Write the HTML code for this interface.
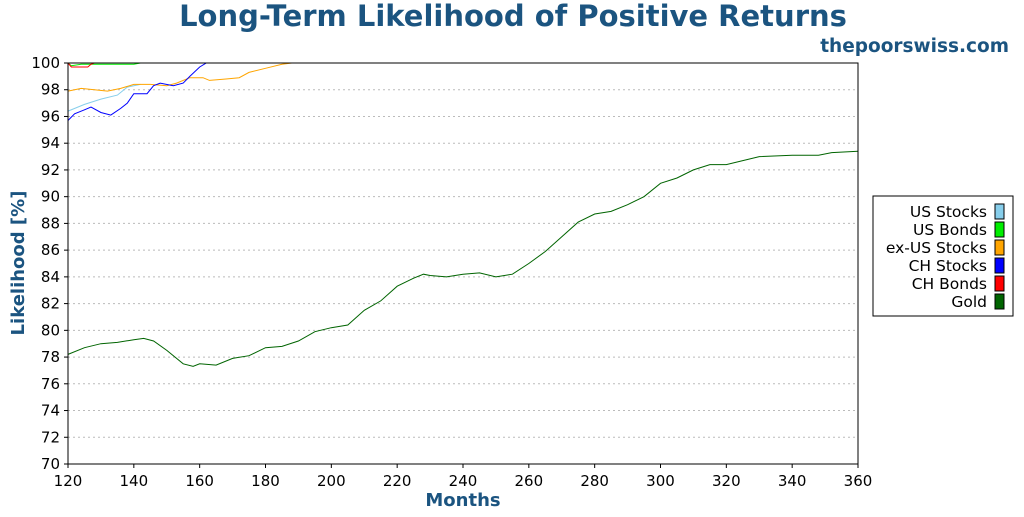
<!DOCTYPE html>
<html><head><meta charset="utf-8"><style>
body{margin:0;background:#fff;}
svg text{font-family:"DejaVu Sans","Liberation Sans",sans-serif;}
</style></head><body>
<svg width="1024" height="512" xmlns="http://www.w3.org/2000/svg">
<text x="513" y="26" text-anchor="middle" font-size="29" font-weight="bold" fill="#1b5480">Long-Term Likelihood of Positive Returns</text>
<text x="1009" y="52" text-anchor="end" font-size="18.5" font-weight="bold" fill="#1b5480">thepoorswiss.com</text>
<g id="grid"></g>
<g id="series"></g>
<rect x="68" y="63" width="790" height="401" fill="none" stroke="#000" stroke-width="1"/>
<g id="axes"></g>
<text x="463" y="506" text-anchor="middle" font-size="18" font-weight="bold" fill="#1b5480">Months</text>
<text transform="translate(24,263) rotate(-90)" text-anchor="middle" font-size="18" font-weight="bold" fill="#1b5480">Likelihood [%]</text>
<g id="legend">
<rect x="873" y="196" width="140" height="120" fill="#fff" stroke="#000"/>
</g>
</svg>
<script>
const xTicks=[120,140,160,180,200,220,240,260,280,300,320,340,360];
const yTicks=[70,72,74,76,78,80,82,84,86,88,90,92,94,96,98,100];
const seriesNames=["US Stocks","US Bonds","ex-US Stocks","CH Stocks","CH Bonds","Gold"];
const seriesColors=["#87ceeb","#00ee00","#ffa500","#0000ff","#ff0000","#006400"];
const usStocksM=[120,125,130,135,138,140,142];
const usStocksV=[96.4,96.9,97.3,97.6,98.2,98.3,98.4];
const usBondsM=[120,121,124,130,140,142,144];
const usBondsV=[100,99.8,99.9,99.9,99.9,100,100];
const exUsM=[120,124,128,132,136,140,145,150,153,157,161,163,168,172,175,180,185,188,190];
const exUsV=[97.9,98.1,98.0,97.9,98.1,98.4,98.4,98.3,98.5,98.9,98.9,98.7,98.8,98.9,99.3,99.6,99.9,100,100];
const chStocksM=[120,122,125,127,130,133,136,138,140,144,146,148,152,155,157,160,162,165];
const chStocksV=[95.7,96.2,96.5,96.7,96.3,96.1,96.6,97.0,97.7,97.7,98.3,98.5,98.3,98.5,99.0,99.7,100,100];
const chBondsM=[120,121,126,127,128,360];
const chBondsV=[100,99.7,99.7,99.9,100,100];
const goldM=[120,125,130,135,140,143,146,150,155,158,160,165,170,175,180,185,190,195,200,205,210,215,220,225,228,230,235,240,245,250,255,260,265,270,275,280,285,290,295,300,305,310,315,320,325,330,340,348,352,360];
const goldV=[78.2,78.7,79.0,79.1,79.3,79.4,79.2,78.5,77.5,77.3,77.5,77.4,77.9,78.1,78.7,78.8,79.2,79.9,80.2,80.4,81.5,82.2,83.3,83.9,84.2,84.1,84.0,84.2,84.3,84.0,84.2,85.0,85.9,87.0,88.1,88.7,88.9,89.4,90.0,91.0,91.4,92.0,92.4,92.4,92.7,93.0,93.1,93.1,93.3,93.4];
const X=m=>68+(m-120)/240*790;
const Y=v=>464-(v-70)/30*401;
const NS="http://www.w3.org/2000/svg";
function mk(t,a,p){const e=document.createElementNS(NS,t);for(const k in a)e.setAttribute(k,a[k]);p.appendChild(e);return e;}
const grid=document.getElementById('grid'),axes=document.getElementById('axes'),ser=document.getElementById('series'),leg=document.getElementById('legend');
yTicks.forEach(v=>{
 if(v>70&&v<100){const g=mk('line',{x1:68,x2:858,y1:Y(v),y2:Y(v),stroke:'#bbb','stroke-dasharray':'2,3'},grid);
 
 }
 const t=mk('line',{x1:64,x2:68,y1:Y(v),y2:Y(v),stroke:'#000'},axes);
 
 
 const l=mk('text',{x:60,y:Y(v)+5,'text-anchor':'end','font-size':15},axes);l.textContent=v;
 
 
});
xTicks.forEach(m=>{
 const t=mk('line',{x1:X(m),x2:X(m),y1:464,y2:468,stroke:'#000'},axes);
 
 
 const l=mk('text',{x:X(m),y:486,'text-anchor':'middle','font-size':15},axes);l.textContent=m;
 
 
});
const data=[[usStocksM,usStocksV],[usBondsM,usBondsV],[exUsM,exUsV],[chStocksM,chStocksV],[chBondsM,chBondsV],[goldM,goldV]];
const order=[5,0,2,3,1,4];
order.forEach(i=>{
 const [ms,vs]=data[i];
 const pts=ms.map((m,j)=>X(m).toFixed(1)+','+Y(vs[j]).toFixed(1)).join(' ');
 const p=mk('polyline',{points:pts,fill:'none',stroke:seriesColors[i],'stroke-width':1},ser);
 
 
});
seriesNames.forEach((n,i)=>{
 const y=211+i*18;
 const t=mk('text',{x:987,y:y+6,'text-anchor':'end','font-size':15.5},leg);t.textContent=n;
 
 
 const r=mk('rect',{x:995,y:y-7,width:9,height:15,fill:seriesColors[i],stroke:'#000'},leg);
 
 
});
</script>
</body></html>
